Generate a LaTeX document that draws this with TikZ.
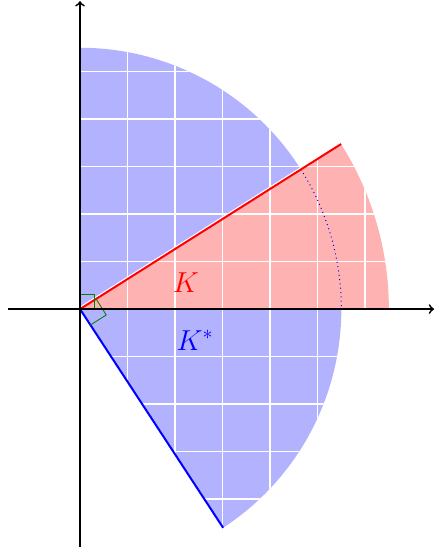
\documentclass[tikz,border=0pt]{standalone}
\begin{document}
\tikzset{
  colline/.style={line width=1.2pt},
  gridline/.style={white, line width=1pt},
  axisline/.style={->, line width=1.1pt, black},
  anglemark/.style={green!50!black, line width=0.5pt},
  conelabel/.style={font=\LARGE, inner sep=0pt},
}
\def\ka{32.3}
\def\kd{-56.8}
\begin{tikzpicture}
\useasboundingbox (-1.684,-5.07) rectangle (7.453,6.505);
\coordinate (O) at (0,0);
\coordinate (Ktip) at (\ka:6.5);
\coordinate (Dtip) at (\kd:5.5);
\coordinate (Ytip) at (0,5.5);
\coordinate (Xtip) at (6.5,0);
\coordinate (Xl) at (-1.52,0);
\coordinate (Xr) at (7.45,0);
\coordinate (Yb) at (0,-5.0);
\coordinate (Yt) at (0,6.48);
% dual cone K*
\fill[blue!30] (O) -- (Dtip) arc[start angle=\kd, end angle=90, radius=5.5] -- cycle;
\draw[white, line width=2.6pt] (O) -- (Ktip);
% cone K
\fill[red!30] (O) -- (Xtip) arc[start angle=0, end angle=\ka, radius=6.5] -- cycle;
% grid inside both
\begin{scope}
  \clip (O) -- (Dtip) arc[start angle=\kd, end angle=90, radius=5.5] -- cycle
        (O) -- (Xtip) arc[start angle=0, end angle=\ka, radius=6.5] -- cycle;
  \draw[gridline] (0,-6) grid (7,7);
\end{scope}
% dotted continuation of K* arc
\draw[blue, dotted, line width=0.6pt] (\ka:5.5) arc[start angle=\ka, end angle=0, radius=5.5];
% boundary rays
\draw[red, colline] (O) -- (Ktip);
\draw[red, colline, yshift=1.3pt] (O) -- (Xtip);
\draw[blue, colline] (O) -- (Dtip);
\draw[blue, colline, xshift=0.6pt] (O) -- (Ytip);
% right angle marks
\draw[anglemark] (0,0.3) -- (0.3,0.3) -- (0.3,0);
\draw[anglemark] (\ka:0.4) -- ++(\ka-90:0.4) -- (\ka-90:0.4);
% axes
\draw[axisline] (Xl) -- (Xr);
\draw[axisline] (Yb) -- (Yt);
% labels
\node[red, conelabel] (Klab) at (2.23,0.55) {$K$};
\node[blue, conelabel] (Kslab) at (2.42,-0.66) {$K^*$};
\end{tikzpicture}
\end{document}
